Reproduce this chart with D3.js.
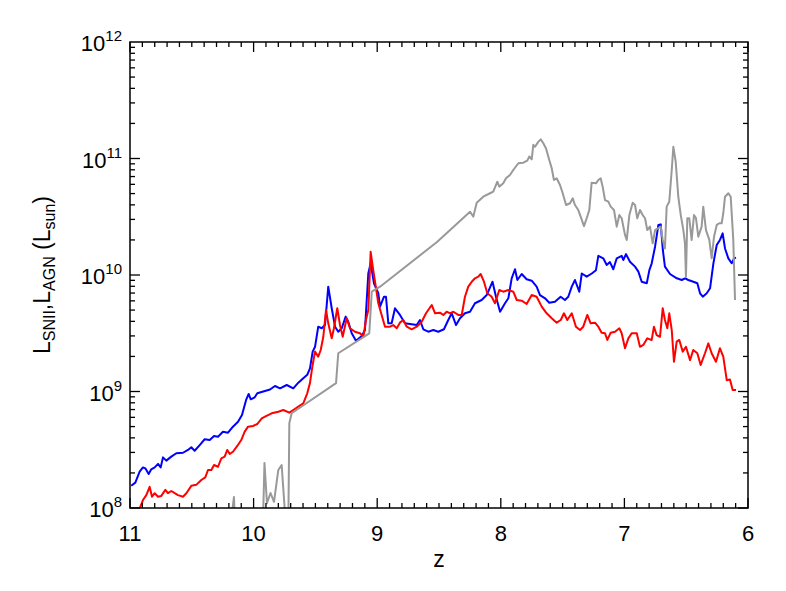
<!DOCTYPE html>
<html><head><meta charset="utf-8">
<script src="https://cdn.jsdelivr.net/npm/d3@7"></script>
<style>body{margin:0;background:#fff}svg{display:block}</style>
</head><body>
<svg id="c" width="786" height="591"></svg>
<script>
const zBlue=[10.99,10.957,10.922,10.895,10.876,10.849,10.828,10.8,10.773,10.752,10.733,10.706,10.666,10.625,10.571,10.531,10.504,10.477,10.436,10.396,10.355,10.32,10.288,10.248,10.207,10.167,10.126,10.094,10.059,10.04,10.023,9.991,9.97,9.922,9.867,9.827,9.786,9.732,9.679,9.638,9.598,9.566,9.544,9.522,9.503,9.477,9.449,9.422,9.396,9.368,9.341,9.315,9.287,9.255,9.234,9.206,9.172,9.125,9.099,9.072,9.053,9.026,8.991,8.977,8.945,8.929,8.91,8.883,8.856,8.816,8.775,8.735,8.68,8.654,8.627,8.587,8.546,8.506,8.46,8.425,8.397,8.362,8.33,8.29,8.249,8.209,8.155,8.114,8.067,8.039,8.006,7.966,7.939,7.912,7.885,7.866,7.831,7.791,7.75,7.71,7.683,7.642,7.608,7.562,7.516,7.481,7.454,7.426,7.4,7.365,7.345,7.305,7.264,7.23,7.211,7.171,7.143,7.117,7.09,7.062,7.022,7.009,6.987,6.955,6.914,6.887,6.86,6.819,6.798,6.779,6.752,6.725,6.706,6.689,6.672,6.631,6.576,6.536,6.509,6.483,6.442,6.41,6.388,6.366,6.334,6.307,6.28,6.253,6.227,6.205,6.186,6.159,6.132,6.113,6.097];
const lBlue=[1.55e8,1.65e8,2.05e8,2.23e8,2.19e8,1.96e8,2.15e8,2.23e8,2.39e8,2.23e8,2.72e8,2.55e8,2.76e8,2.95e8,2.98e8,3.15e8,3.32e8,3.10e8,3.47e8,3.89e8,3.83e8,4.15e8,4.09e8,4.52e8,4.43e8,4.99e8,5.50e8,6.29e8,8.57e8,9.52e8,8.57e8,8.92e8,9.65e8,1.0e9,1.04e9,1.115e9,1.065e9,1.137e9,1.065e9,1.19e9,1.30e9,1.39e9,1.58e9,2.20e9,2.42e9,3.60e9,3.49e9,3.72e9,7.94e9,5.18e9,3.60e9,3.26e9,3.49e9,4.39e9,3.97e9,3.16e9,2.73e9,2.99e9,3.37e9,1.03e10,1.26e10,8.49e9,6.97e9,5.35e9,6.51e9,6.51e9,3.85e9,3.85e9,5.18e9,4.54e9,3.85e9,3.80e9,3.72e9,4.11e9,3.42e9,3.26e9,3.37e9,3.26e9,3.42e9,4.11e9,4.69e9,3.72e9,4.25e9,4.69e9,4.84e9,5.72e9,6.10e9,6.73e9,8.76e9,6.51e9,4.84e9,5.72e9,6.31e9,9.37e9,1.12e10,9.06e9,1.02e10,9.19e9,8.93e9,7.94e9,6.73e9,6.31e9,5.78e9,5.90e9,6.51e9,6.10e9,6.51e9,7.94e9,9.06e9,7.19e9,1.03e10,9.67e9,1.03e10,1.10e10,1.46e10,1.39e10,1.22e10,1.29e10,1.12e10,1.39e10,1.46e10,1.345e10,1.51e10,1.30e10,1.18e10,1.07e10,8.76e9,8.49e9,1.10e10,1.26e10,1.75e10,2.69e10,2.72e10,1.64e10,1.18e10,1.02e10,9.37e9,9.06e9,9.37e9,9.06e9,8.76e9,8.49e9,6.97e9,6.51e9,6.97e9,7.69e9,1.26e10,1.81e10,2.00e10,2.28e10,1.69e10,1.39e10,1.26e10,1.39e10,1.41e10];

const zRed=[10.943,10.922,10.895,10.868,10.841,10.822,10.8,10.773,10.747,10.714,10.693,10.666,10.638,10.612,10.571,10.544,10.504,10.464,10.423,10.391,10.369,10.342,10.32,10.288,10.261,10.234,10.213,10.193,10.167,10.132,10.1,10.072,10.045,10.005,9.97,9.934,9.908,9.854,9.8,9.76,9.711,9.679,9.638,9.598,9.566,9.544,9.525,9.503,9.477,9.457,9.436,9.414,9.396,9.368,9.35,9.323,9.301,9.279,9.247,9.22,9.18,9.139,9.112,9.091,9.072,9.053,9.032,8.991,8.964,8.937,8.896,8.87,8.842,8.816,8.789,8.761,8.721,8.68,8.64,8.605,8.559,8.532,8.492,8.465,8.438,8.411,8.384,8.344,8.316,8.29,8.263,8.235,8.209,8.182,8.163,8.136,8.109,8.074,8.047,8.012,7.98,7.939,7.899,7.871,7.831,7.791,7.75,7.71,7.669,7.629,7.588,7.548,7.515,7.489,7.462,7.426,7.392,7.359,7.333,7.3,7.273,7.238,7.211,7.184,7.157,7.138,7.111,7.076,7.041,7.022,6.995,6.968,6.941,6.9,6.874,6.847,6.815,6.779,6.761,6.739,6.712,6.69,6.672,6.653,6.637,6.617,6.599,6.577,6.556,6.528,6.502,6.469,6.443,6.41,6.383,6.348,6.321,6.294,6.259,6.227,6.2,6.172,6.146,6.124,6.097];
const lRed=[8.7e7,0.99e8,1.17e8,1.29e8,1.52e8,1.25e8,1.34e8,1.25e8,1.27e8,1.43e8,1.34e8,1.40e8,1.34e8,1.29e8,1.25e8,1.34e8,1.55e8,1.58e8,1.74e8,1.83e8,2.12e8,2.12e8,2.34e8,2.26e8,2.67e8,2.76e8,3.15e8,2.91e8,3.04e8,3.41e8,3.83e8,4.52e8,4.99e8,5.06e8,5.26e8,
5.89e8,6.08e8,6.50e8,6.71e8,6.94e8,6.58e8,6.94e8,7.41e8,7.92e8,9.65e8,
1.18e9,1.63e9,2.20e9,1.99e9,2.27e9,2.95e9,5.01e9,3.85e9,2.86e9,3.49e9,
5.18e9,3.72e9,2.95e9,4.25e9,3.49e9,3.26e9,3.16e9,2.95e9,4.11e9,5.01e9,
1.58e10,1.10e10,5.72e9,4.54e9,3.60e9,3.60e9,3.72e9,3.49e9,3.90e9,4.11e9,
3.60e9,3.42e9,3.60e9,3.97e9,4.69e9,5.53e9,4.69e9,4.75e9,4.54e9,4.84e9,
4.69e9,4.84e9,4.54e9,4.54e9,6.51e9,7.94e9,8.76e9,9.37e9,9.67e9,1.02e10,
8.76e9,6.97e9,6.51e9,5.72e9,7.43e9,7.19e9,7.43e9,7.19e9,6.10e9,6.02e9,
5.64e9,6.73e9,6.51e9,5.35e9,4.69e9,4.25e9,3.90e9,4.11e9,4.69e9,4.11e9,
4.69e9,3.60e9,3.37e9,3.60e9,4.54e9,3.85e9,3.90e9,3.60e9,3.20e9,3.16e9,
2.77e9,3.20e9,3.26e9,3.49e9,3.16e9,2.35e9,2.86e9,3.16e9,3.16e9,2.42e9,
2.51e9,2.86e9,2.77e9,3.60e9,3.05e9,2.95e9,5.18e9,4.11e9,3.49e9,4.69e9,
3.37e9,1.80e9,2.68e9,2.77e9,2.20e9,2.42e9,1.86e9,2.27e9,2.13e9,1.69e9,
2.13e9,2.59e9,2.13e9,1.80e9,2.35e9,1.99e9,1.25e9,1.27e9,1.03e9,1.03e9];

const zGray=[10.223,10.159,10.138,9.932,9.912,9.892,9.863,9.835,9.8,9.773,9.75,9.738,9.722,9.711,9.692,9.333,9.315,9.064,9.044,8.977,8.516,8.249,8.222,8.195,8.142,8.087,8.061,8.028,8.012,7.98,7.958,7.926,7.899,7.858,7.818,7.786,7.769,7.75,7.737,7.723,7.697,7.677,7.656,7.634,7.608,7.588,7.57,7.548,7.521,7.499,7.472,7.44,7.418,7.4,7.373,7.354,7.327,7.305,7.284,7.265,7.23,7.211,7.192,7.176,7.157,7.13,7.111,7.084,7.062,7.041,7.022,6.995,6.981,6.96,6.933,6.914,6.896,6.874,6.852,6.833,6.815,6.793,6.771,6.752,6.726,6.706,6.69,6.672,6.658,6.637,6.617,6.604,6.585,6.564,6.544,6.523,6.51,6.502,6.491,6.475,6.456,6.437,6.421,6.402,6.375,6.362,6.34,6.313,6.294,6.275,6.253,6.232,6.213,6.2,6.186,6.159,6.14,6.119,6.105];
const lGray=[3.6e7,1.24e8,3.6e7,3.6e7,2.43e8,1.10e8,1.345e8,1.13e8,2.12e8,2.34e8,
1.04e8,3.6e7,3.6e7,5.33e8,6.50e8,1.18e9,2.13e9,3.16e9,7.19e9,7.94e9,
1.92e10,3.49e10,3.17e10,4.17e10,4.70e10,5.03e10,5.19e10,6.32e10,5.73e10,6.12e10,
6.76e10,7.22e10,7.97e10,9.10e10,9.21e10,9.58e10,1.04e11,9.84e10,1.31e11,1.26e11,
1.39e11,1.46e11,1.35e11,1.22e11,9.71e10,8.24e10,6.54e10,6.76e10,5.93e10,5.03e10,
3.99e10,4.13e10,4.55e10,3.99e10,3.61e10,3.17e10,2.63e10,3.07e10,3.61e10,6.20e10,
6.12e10,6.54e10,6.76e10,5.73e10,4.40e10,4.26e10,3.86e10,3.61e10,2.60e10,3.27e10,
3.07e10,2.21e10,2.00e10,3.27e10,4.17e10,3.99e10,3.07e10,3.61e10,3.27e10,3.07e10,
2.43e10,2.60e10,1.87e10,2.43e10,2.52e10,2.60e10,2.00e10,1.69e10,3.86e10,4.26e10,
7.97e10,1.26e11,9.39e10,4.70e10,3.27e10,2.43e10,1.87e10,9.67e9,3.07e10,3.07e10,
2.00e10,3.27e10,3.08e10,2.13e10,2.60e10,3.86e10,2.43e10,2.00e10,1.39e10,2.13e10,
2.69e10,2.78e10,2.78e10,3.39e10,4.70e10,5.03e10,4.70e10,2.00e10,6.10e9];

const xTickLabels=["11","10","9","8","7","6"];
const xTickValues=[11,10,9,8,7,6];
const yTickExps=["8","9","10","11","12"];

const L=130,R=748,T=42,B=508;
const FONT="'Liberation Sans', Arial, Helvetica, sans-serif";
const svg=d3.select("#c");
const x=d3.scaleLinear().domain([11,6]).range([L,R]);
const y=d3.scaleLog().domain([1e8,1e12]).range([B,T]);

svg.append("defs").append("clipPath").attr("id","clip")
  .append("rect").attr("x",L).attr("y",T).attr("width",R-L).attr("height",B-T);

const line=d3.line().x(d=>x(d[0])).y(d=>y(d[1]));
function draw(zs,ls,color){
  svg.append("path").datum(zs.map((z,i)=>[z,ls[i]]))
    .attr("d",line).attr("fill","none").attr("stroke",color)
    .attr("stroke-width",2).attr("stroke-linejoin","round")
    .attr("clip-path","url(#clip)");
}
draw(zBlue,lBlue,"#0000ff");
draw(zRed,lRed,"#ff0000");
draw(zGray,lGray,"#999999");

// frame
svg.append("rect").attr("x",L).attr("y",T).attr("width",R-L).attr("height",B-T)
  .attr("fill","none").attr("stroke","#000").attr("stroke-width",1.5);

const tk=svg.append("g").attr("stroke","#000").attr("stroke-width",1.3);
// x ticks
d3.range(0,51).forEach(i=>{
  const v=11-i/10, len=(i%10===0)?10:5, px=x(v);
  tk.append("line").attr("x1",px).attr("x2",px).attr("y1",B).attr("y2",B-len);
  tk.append("line").attr("x1",px).attr("x2",px).attr("y1",T).attr("y2",T+len);
});
// y ticks
[8,9,10,11].forEach(e=>{
  d3.range(1,10).forEach(m=>{
    const v=m*Math.pow(10,e), len=(m===1)?10:5, py=y(v);
    tk.append("line").attr("x1",L).attr("x2",L+len).attr("y1",py).attr("y2",py);
    tk.append("line").attr("x1",R).attr("x2",R-len).attr("y1",py).attr("y2",py);
  });
});

// x tick labels
xTickValues.forEach((v,i)=>{
  svg.append("text").attr("x",x(v)).attr("y",541).attr("text-anchor","middle")
    .attr("font-family",FONT).attr("font-size",22).text(xTickLabels[i]);
});
// y tick labels
yTickExps.forEach(e=>{
  const v=Math.pow(10,+e);
  const t=svg.append("text").attr("x",L-8).attr("y",y(v)+9).attr("text-anchor","end")
    .attr("font-family",FONT).attr("font-size",22);
  t.append("tspan").text("10");
  t.append("tspan").attr("dy",-10).attr("font-size",15).text(e);
});
// x title
svg.append("text").attr("x",439).attr("y",567).attr("text-anchor","middle")
  .attr("font-family",FONT).attr("font-size",23).text("z");
// y title
const yt=svg.append("text").attr("transform","translate(50,275) rotate(-90)")
  .attr("text-anchor","middle").attr("font-family",FONT).attr("font-size",23);
yt.append("tspan").text("L");
yt.append("tspan").attr("dy",5).attr("font-size",16).text("SNII");
yt.append("tspan").attr("dy",-5).text(",L");
yt.append("tspan").attr("dy",5).attr("font-size",16).text("AGN");
yt.append("tspan").attr("dy",-5).text(" (L");
yt.append("tspan").attr("dy",5).attr("font-size",16).text("sun");
yt.append("tspan").attr("dy",-5).text(")");
</script>
</body></html>
